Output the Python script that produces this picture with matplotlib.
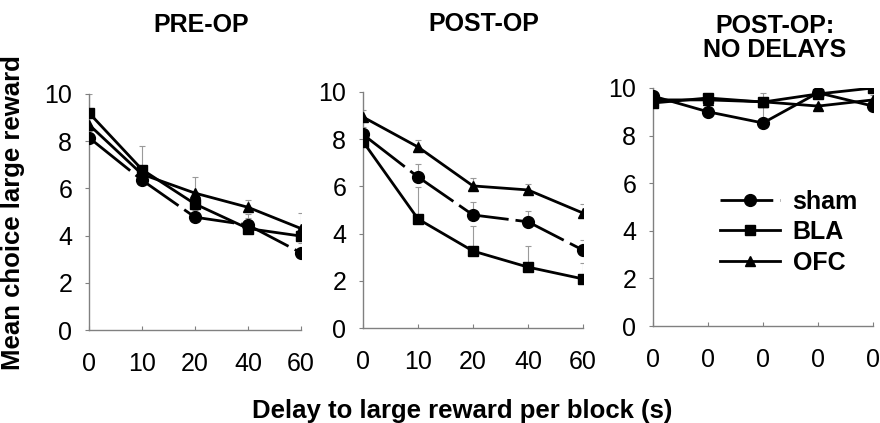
import matplotlib
matplotlib.use("Agg")
import matplotlib.pyplot as plt

plt.rcParams["font.family"] = ["Liberation Sans", "DejaVu Sans"]

# categories (delay per block, s)
delay_labels = ["0", "10", "20", "40", "60"]
nodelay_labels = ["0", "0", "0", "0", "0"]

# PRE-OP
pre_sham = [8.15, 6.35, 4.78, 4.45, 3.27]
pre_bla = [9.2, 6.8, 5.34, 4.3, 3.98]
pre_ofc = [8.7, 6.6, 5.8, 5.2, 4.3]
pre_sham_err = [0.3, 0.3, 0.3, 0.3, 0.4]
pre_bla_err = [0.8, 1.0, 0.5, 0.6, 0.3]
pre_ofc_err = [0.4, 0.3, 0.7, 0.3, 0.65]

# POST-OP
post_sham = [8.2, 6.4, 4.79, 4.5, 3.3]
post_bla = [7.9, 4.62, 3.26, 2.58, 2.08]
post_ofc = [8.94, 7.67, 6.02, 5.85, 4.87]
post_sham_err = [0.3, 0.55, 0.55, 0.45, 0.43]
post_bla_err = [0.3, 1.35, 1.05, 0.9, 0.67]
post_ofc_err = [0.3, 0.3, 0.33, 0.25, 0.38]

# POST-OP: NO DELAYS
nd_sham = [9.66, 9.0, 8.53, 9.8, 9.24]
nd_bla = [9.37, 9.58, 9.41, 9.75, 10.0]
nd_ofc = [9.5, 9.5, 9.42, 9.24, 9.5]
nd_sham_err = [0.4, 0.2, 1.25, 0.1, 0.2]
nd_bla_err = [0.2, 0.2, 0.1, 0.1, 0.0]
nd_ofc_err = [0.1, 0.1, 0.1, 0.1, 0.2]

groups = ["sham", "BLA", "OFC"]
markers = {"sham": "o", "BLA": "s", "OFC": "^"}
msizes = {"sham": 8.5, "BLA": 7, "OFC": 7}
styles = {"sham": (0, (19, 2.5)), "BLA": "-", "OFC": "-"}

W, H = 880, 423
fig = plt.figure(figsize=(W / 100, H / 100), dpi=100)


def px_axes(left, right, bottom, top):
    return fig.add_axes([left / W, 1 - bottom / H, (right - left) / W, (bottom - top) / H])


panels = [
    (px_axes(89, 301, 330, 94), delay_labels,
     {"sham": (pre_sham, pre_sham_err), "BLA": (pre_bla, pre_bla_err), "OFC": (pre_ofc, pre_ofc_err)}),
    (px_axes(363, 583, 328, 92), delay_labels,
     {"sham": (post_sham, post_sham_err), "BLA": (post_bla, post_bla_err), "OFC": (post_ofc, post_ofc_err)}),
    (px_axes(653, 873, 326, 88), nodelay_labels,
     {"sham": (nd_sham, nd_sham_err), "BLA": (nd_bla, nd_bla_err), "OFC": (nd_ofc, nd_ofc_err)}),
]

for ax, labels, series in panels:
    x = list(range(len(labels)))
    for g in groups:
        vals, err = series[g]
        ax.errorbar(x, vals, yerr=[[0] * len(err), err], fmt="none",
                    ecolor="#9a9a9a", elinewidth=0.8, capsize=2, capthick=0.8, zorder=1)
        ax.plot(x, vals, color="black", lw=2, linestyle=styles[g],
                marker=markers[g], markersize=msizes[g], label=g, zorder=3)
    ax.set_xlim(0, len(labels) - 1)
    ax.set_ylim(0, 10)
    ax.set_xticks(x)
    ax.set_xticklabels(labels)
    ax.set_yticks([0, 2, 4, 6, 8, 10])
    for s in ("top", "right"):
        ax.spines[s].set_visible(False)
    for s in ("left", "bottom"):
        ax.spines[s].set_color("#808080")
        ax.spines[s].set_linewidth(1)
    ax.tick_params(axis="y", labelsize=18, length=3, color="#808080", pad=9)
    ax.tick_params(axis="x", labelsize=18, length=3, direction="in", color="#808080", pad=16)
    ax.patch.set_alpha(0)
    for lbl in ax.get_xticklabels() + ax.get_yticklabels():
        lbl.set_clip_on(False)

leg = panels[2][0].legend(loc="upper left", bbox_to_anchor=((710 - 653) / 220, (326 - 180) / 238),
                          frameon=False, prop={"weight": "bold", "size": 18},
                          handlelength=2.4, handletextpad=0.5, labelspacing=0.25,
                          borderaxespad=0)

fig.text(201 / W, 1 - 25 / H, "PRE-OP", ha="center", va="center", fontsize=18, fontweight="bold")
fig.text(484 / W, 1 - 24 / H, "POST-OP", ha="center", va="center", fontsize=18, fontweight="bold")
fig.text(775 / W, 1 - 38 / H, "POST-OP:\nNO DELAYS", ha="center", va="center", fontsize=18,
         fontweight="bold", linespacing=1.05)
fig.text(462 / W, 1 - 411 / H, "Delay to large reward per block (s)", ha="center", va="center",
         fontsize=18.5, fontweight="bold")
fig.text(13 / W, 1 - 213 / H, "Mean choice large reward", ha="center", va="center",
         rotation=90, fontsize=18.5, fontweight="bold")

fig.savefig("out.png", dpi=100)
